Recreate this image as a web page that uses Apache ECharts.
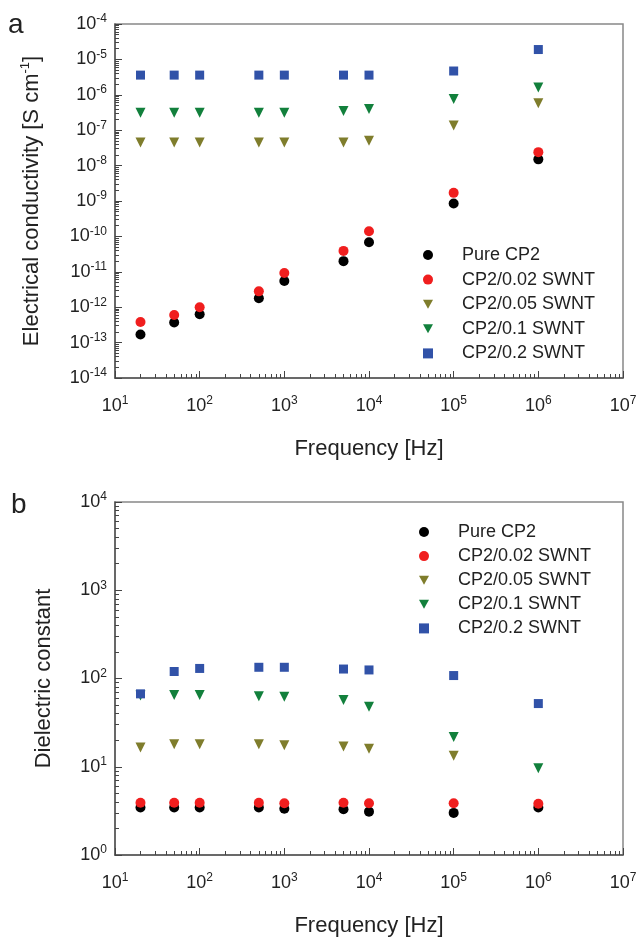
<!DOCTYPE html>
<html>
<head>
<meta charset="utf-8">
<script src="https://cdn.jsdelivr.net/npm/echarts@6/dist/echarts.min.js"></script>
<style>
  html, body { margin: 0; padding: 0; background: #fff; }
  #chart { width: 640px; height: 938px; }
</style>
</head>
<body>
<div id="chart"></div>
<script>
// frequencies (Hz)
const freq = [20, 50, 100, 500, 1000, 5000, 10000, 100000, 1000000];

// (a) electrical conductivity, S cm-1
const condPure = [1.7e-13, 3.7e-13, 6.3e-13, 1.8e-12, 5.5e-12, 2.0e-11, 6.8e-11, 8.5e-10, 1.5e-8];
const cond002 = [3.8e-13, 6.0e-13, 1.0e-12, 2.8e-12, 9.3e-12, 3.9e-11, 1.4e-10, 1.7e-9, 2.4e-8];
const cond005 = [4.5e-8, 4.5e-8, 4.5e-8, 4.5e-8, 4.5e-8, 4.5e-8, 5.0e-8, 1.35e-7, 5.8e-7];
const cond01 = [3.1e-7, 3.1e-7, 3.1e-7, 3.1e-7, 3.1e-7, 3.5e-7, 4.0e-7, 7.6e-7, 1.6e-6];
const cond02 = [3.6e-6, 3.6e-6, 3.6e-6, 3.6e-6, 3.6e-6, 3.6e-6, 3.6e-6, 4.7e-6, 1.9e-5];

// (b) dielectric constant (no CP2/0.05 point visible at 1 MHz)
const dielPure = [3.45, 3.45, 3.45, 3.45, 3.35, 3.3, 3.1, 3.0, 3.45];
const diel002 = [3.9, 3.9, 3.9, 3.9, 3.85, 3.9, 3.85, 3.85, 3.8];
const diel005 = [16.5, 18, 18, 18, 17.5, 17, 16, 13.3, null];
const diel01 = [64, 65, 65, 63, 62, 57, 48, 21.7, 9.6];
const diel02 = [67, 120, 130, 134, 134, 128, 125, 108, 52];

const seriesNames = ['Pure CP2', 'CP2/0.02 SWNT', 'CP2/0.05 SWNT', 'CP2/0.1 SWNT', 'CP2/0.2 SWNT'];

// tick labels (decades)
const freqTicks = [1e1, 1e2, 1e3, 1e4, 1e5, 1e6, 1e7];
const condTicks = [1e-14, 1e-13, 1e-12, 1e-11, 1e-10, 1e-9, 1e-8, 1e-7, 1e-6, 1e-5, 1e-4];
const dielTicks = [1e0, 1e1, 1e2, 1e3, 1e4];

const FONT = '"Liberation Sans", Arial, sans-serif';
const DOWN_TRI = 'path://M0,0L10,0L5,9Z';

// marker look per series
const marks = [
  { color: '#000000', symbol: 'circle', size: 10, rotate: 0, icon: 'circle' },
  { color: '#f01e1e', symbol: 'circle', size: 10, rotate: 0, icon: 'circle' },
  { color: '#7f7d2c', symbol: 'triangle', size: 10, rotate: 180, icon: DOWN_TRI },
  { color: '#12803c', symbol: 'triangle', size: 10, rotate: 180, icon: DOWN_TRI },
  { color: '#3152a8', symbol: 'rect', size: 9, rotate: 0, icon: 'rect' }
];

// log minor ticks (2..9 per decade)
const minorTicks = (lo, hi) => {
  const out = [];
  for (let e = lo; e < hi; e++) {
    for (let k = 2; k <= 9; k++) out.push(Number((k * Math.pow(10, e)).toPrecision(3)));
  }
  return out;
};

const supLabel = v => '{b|10}{s|' + Math.round(Math.log10(v)) + '}';
const supRich = {
  b: { fontSize: 18, fontFamily: FONT, color: '#222', lineHeight: 22 },
  s: { fontSize: 12, fontFamily: FONT, color: '#222', verticalAlign: 'top', lineHeight: 12 }
};

const pairs = ys => freq.map((f, i) => [f, ys[i]]).filter(p => p[1] != null);

const makeSeries = (gridIdx, list) => list.map((ys, i) => ({
  name: seriesNames[i],
  type: 'scatter',
  xAxisIndex: gridIdx * 2,
  yAxisIndex: gridIdx * 2,
  symbol: marks[i].symbol,
  symbolSize: marks[i].size,
  symbolRotate: marks[i].rotate,
  itemStyle: { color: marks[i].color, opacity: 1 },
  data: pairs(ys)
}));

const tickStyle = { color: '#444', width: 1 };

const mainX = (gridIdx) => ({
  type: 'log', gridIndex: gridIdx, min: 10, max: 1e7, logBase: 10,
  position: 'bottom',
  name: 'Frequency [Hz]', nameLocation: 'middle', nameGap: 60,
  nameTextStyle: { fontSize: 22, fontFamily: FONT, color: '#222' },
  axisLine: { lineStyle: { color: '#555', width: 1.5 } },
  axisTick: { inside: true, length: 7, customValues: freqTicks, lineStyle: tickStyle },
  axisLabel: { customValues: freqTicks, formatter: supLabel, rich: supRich, margin: 17 },
  splitLine: { show: false }
});
const minorX = (gridIdx) => ({
  type: 'log', gridIndex: gridIdx, min: 10, max: 1e7, logBase: 10,
  position: 'bottom',
  axisLine: { show: false },
  axisTick: { inside: true, length: 4, customValues: minorTicks(1, 7), lineStyle: tickStyle },
  axisLabel: { show: false },
  splitLine: { show: false }
});
const mainY = (gridIdx, lo, hi, ticks, name, gap) => ({
  type: 'log', gridIndex: gridIdx, min: lo, max: hi, logBase: 10,
  position: 'left',
  name: name, nameLocation: 'middle', nameGap: gap,
  nameTextStyle: {
    fontSize: 22, fontFamily: FONT, color: '#222',
    rich: {
      n: { fontSize: 22, fontFamily: FONT, color: '#222', lineHeight: 26 },
      s: { fontSize: 13, fontFamily: FONT, color: '#222', verticalAlign: 'top', lineHeight: 13 }
    }
  },
  axisLine: { lineStyle: { color: '#555', width: 1.5 } },
  axisTick: { inside: true, length: 7, customValues: ticks, lineStyle: tickStyle },
  axisLabel: { customValues: ticks, formatter: supLabel, rich: supRich, margin: 8 },
  splitLine: { show: false }
});
const minorY = (gridIdx, lo, hi, elo, ehi) => ({
  type: 'log', gridIndex: gridIdx, min: lo, max: hi, logBase: 10,
  position: 'left',
  axisLine: { show: false },
  axisTick: { inside: true, length: 4, customValues: minorTicks(elo, ehi), lineStyle: tickStyle },
  axisLabel: { show: false },
  splitLine: { show: false }
});

const legendCommon = {
  orient: 'vertical',
  padding: 0,
  itemWidth: 10,
  itemHeight: 10,
  data: seriesNames.map((n, i) => ({ name: n, icon: marks[i].icon })),
  selectedMode: false,
  textStyle: { fontSize: 18, fontFamily: FONT, color: '#222', lineHeight: 20, padding: [0, 0, 0, 24] }
};

const chart = echarts.init(document.getElementById('chart'), null, { renderer: 'canvas' });

chart.setOption({
  animation: false,
  backgroundColor: '#fff',
  grid: [
    { left: 115, top: 24, width: 508, height: 354, show: true, borderColor: '#888', borderWidth: 1.5 },
    { left: 115, top: 502, width: 508, height: 355, show: true, borderColor: '#888', borderWidth: 1.5 }
  ],
  xAxis: [mainX(0), minorX(0), mainX(1), minorX(1)],
  yAxis: [
    mainY(0, 1e-14, 1e-4, condTicks, '{n|Electrical conductivity [S cm}{s|-1}{n|]}', 70),
    minorY(0, 1e-14, 1e-4, -14, -4),
    mainY(1, 1, 1e4, dielTicks, 'Dielectric constant', 60),
    minorY(1, 1, 1e4, 0, 4)
  ],
  legend: [
    Object.assign({ left: 423, top: 245, itemGap: 4.6 }, legendCommon),
    Object.assign({ left: 419, top: 522, itemGap: 4.1 }, legendCommon)
  ],
  graphic: [
    { type: 'text', left: 8, top: 11, style: { text: 'a', fontSize: 28, fontFamily: FONT, fill: '#222' } },
    { type: 'text', left: 11, top: 491, style: { text: 'b', fontSize: 28, fontFamily: FONT, fill: '#222' } }
  ],
  series: [
    ...makeSeries(0, [condPure, cond002, cond005, cond01, cond02]),
    ...makeSeries(1, [dielPure, diel002, diel005, diel01, diel02])
  ]
});

window.addEventListener('resize', () => chart.resize());
</script>
</body>
</html>
